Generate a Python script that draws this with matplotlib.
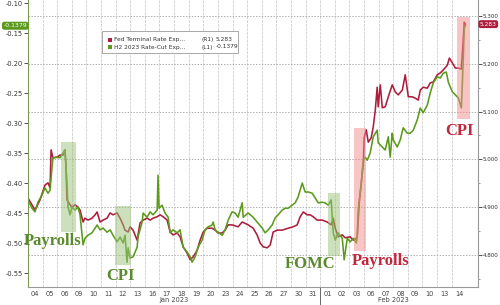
import matplotlib
matplotlib.use('Agg')
from matplotlib import pyplot as plt
from matplotlib.patches import Rectangle
import matplotlib.transforms as mtransforms
import numpy as np

# trading days shown on the x axis (weekends removed)
days = ['04', '05', '06', '09', '10', '11', '12', '13', '16', '17', '18', '19', '20', '23', '24',
        '25', '26', '27', '30', '31', '01', '02', '03', '06', '07', '08', '09', '10', '13', '14']
months = ['Jan 2023', 'Feb 2023']
month_start = [0, 20]
month_end = [20, 30]

# H2 2023 rate-cut expectations (left axis), time in trading days
green_t = [0.0, 0.27, 0.48, 0.68, 0.96, 1.16, 1.37, 1.51, 1.64, 1.71,
           1.99, 2.19, 2.40, 2.53, 2.60, 2.67, 2.74, 2.88, 3.01, 3.22,
           3.42, 3.56, 3.77, 3.90, 4.11, 4.38, 4.59, 4.73, 4.93, 5.14,
           5.41, 5.62, 5.82, 6.10, 6.30, 6.51, 6.64, 6.78, 6.85, 6.99,
           7.19, 7.47, 7.53, 7.81, 7.88, 8.15, 8.36, 8.56, 8.84, 8.90,
           8.97, 9.18, 9.38, 9.59, 9.73, 9.93, 10.21, 10.41, 10.62, 10.89,
           11.10, 11.23, 11.44, 11.64, 11.92, 12.12, 12.33, 12.60, 12.67, 12.81,
           13.01, 13.29, 13.49, 13.70, 13.97, 14.18, 14.38, 14.66, 14.73, 15.07,
           15.41, 15.68, 16.03, 16.23, 16.44, 16.71, 16.92, 17.12, 17.40, 17.60,
           17.81, 18.08, 18.29, 18.49, 18.77, 18.97, 19.18, 19.45, 19.66, 19.86,
           20.14, 20.34, 20.55, 20.75, 20.82, 20.89, 21.03, 21.23, 21.51, 21.64,
           21.85, 22.05, 22.26, 22.47, 22.53, 22.60, 22.81, 22.95, 23.08, 23.22,
           23.42, 23.63, 23.90, 23.97, 24.25, 24.45, 24.66, 24.79, 24.93, 25.00,
           25.27, 25.48, 25.68, 25.96, 26.16, 26.37, 26.64, 26.85, 27.05, 27.33,
           27.53, 27.74, 28.01, 28.22, 28.42, 28.63, 28.77, 29.04, 29.25, 29.45,
           29.66, 29.79, 29.86, 29.93]
green_v = [-0.428, -0.442, -0.448, -0.432, -0.420, -0.408, -0.417, -0.412, -0.375, -0.358,
           -0.357, -0.358, -0.350, -0.345, -0.375, -0.403, -0.440, -0.453, -0.440, -0.445,
           -0.440, -0.453, -0.503, -0.492, -0.487, -0.483, -0.475, -0.470, -0.478, -0.475,
           -0.482, -0.478, -0.487, -0.498, -0.490, -0.500, -0.487, -0.532, -0.508, -0.525,
           -0.523, -0.507, -0.490, -0.465, -0.450, -0.457, -0.448, -0.453, -0.445, -0.387,
           -0.442, -0.437, -0.450, -0.457, -0.483, -0.478, -0.483, -0.478, -0.507, -0.515,
           -0.523, -0.532, -0.523, -0.507, -0.495, -0.478, -0.473, -0.470, -0.465, -0.478,
           -0.482, -0.487, -0.478, -0.462, -0.448, -0.450, -0.457, -0.433, -0.457, -0.450,
           -0.457, -0.465, -0.475, -0.483, -0.478, -0.470, -0.458, -0.453, -0.445, -0.442,
           -0.442, -0.437, -0.433, -0.423, -0.400, -0.415, -0.415, -0.417, -0.425, -0.433,
           -0.432, -0.433, -0.437, -0.428, -0.457, -0.483, -0.495, -0.483, -0.492, -0.528,
           -0.492, -0.498, -0.492, -0.500, -0.490, -0.445, -0.400, -0.362, -0.357, -0.362,
           -0.350, -0.323, -0.312, -0.333, -0.340, -0.345, -0.323, -0.357, -0.317, -0.328,
           -0.340, -0.328, -0.308, -0.317, -0.317, -0.312, -0.295, -0.275, -0.283, -0.270,
           -0.250, -0.233, -0.223, -0.225, -0.217, -0.215, -0.232, -0.248, -0.253, -0.258,
           -0.275, -0.195, -0.142, -0.1379]

# Fed terminal rate expectations (right axis)
red_t = [0.0, 0.27, 0.48, 0.82, 1.16, 1.37, 1.51, 1.58, 1.71, 1.99,
         2.19, 2.40, 2.53, 2.60, 2.67, 2.88, 3.01, 3.22, 3.42, 3.56,
         3.77, 3.90, 4.11, 4.38, 4.59, 4.73, 4.93, 5.14, 5.41, 5.62,
         5.82, 6.10, 6.30, 6.51, 6.64, 6.85, 6.99, 7.19, 7.47, 7.67,
         7.88, 8.15, 8.36, 8.56, 8.84, 9.04, 9.25, 9.52, 9.73, 9.93,
         10.21, 10.41, 10.62, 10.89, 11.10, 11.30, 11.58, 11.78, 11.99, 12.26,
         12.60, 12.81, 13.01, 13.29, 13.49, 13.70, 13.97, 14.18, 14.38, 14.66,
         15.07, 15.41, 15.68, 15.89, 16.10, 16.37, 16.58, 16.78, 17.05, 17.40,
         17.60, 17.81, 18.15, 18.42, 18.63, 18.84, 19.11, 19.32, 19.52, 19.79,
         20.14, 20.48, 20.75, 20.89, 21.03, 21.23, 21.51, 21.71, 22.05, 22.26,
         22.53, 22.67, 22.81, 22.95, 23.01, 23.15, 23.29, 23.49, 23.63, 23.77,
         23.90, 23.97, 24.11, 24.25, 24.45, 24.66, 24.93, 25.14, 25.34, 25.62,
         25.82, 26.03, 26.30, 26.51, 26.71, 26.85, 27.05, 27.33, 27.53, 27.74,
         28.01, 28.22, 28.42, 28.70, 28.84, 29.04, 29.25, 29.45, 29.66, 29.79,
         29.86, 29.93]
red_v = [4.919, 4.905, 4.894, 4.915, 4.946, 4.951, 4.940, 5.020, 5.003, 5.005,
         5.009, 5.009, 5.020, 4.988, 4.915, 4.905, 4.900, 4.905, 4.900, 4.894,
         4.869, 4.877, 4.873, 4.877, 4.884, 4.890, 4.869, 4.873, 4.877, 4.888,
         4.884, 4.888, 4.877, 4.863, 4.852, 4.848, 4.859, 4.852, 4.831, 4.867,
         4.873, 4.877, 4.873, 4.877, 4.880, 4.884, 4.880, 4.873, 4.848, 4.842,
         4.846, 4.838, 4.817, 4.804, 4.790, 4.796, 4.810, 4.831, 4.848, 4.856,
         4.856, 4.852, 4.846, 4.846, 4.852, 4.863, 4.863, 4.861, 4.859, 4.869,
         4.863, 4.856, 4.842, 4.825, 4.817, 4.815, 4.821, 4.848, 4.852, 4.852,
         4.854, 4.856, 4.859, 4.863, 4.880, 4.890, 4.884, 4.884, 4.880, 4.873,
         4.873, 4.869, 4.863, 4.877, 4.856, 4.838, 4.842, 4.836, 4.838, 4.831,
         4.836, 4.909, 4.951, 4.992, 5.045, 5.062, 5.036, 5.045, 5.068, 5.103,
         5.151, 5.110, 5.156, 5.108, 5.110, 5.131, 5.156, 5.141, 5.135, 5.145,
         5.177, 5.131, 5.131, 5.128, 5.124, 5.145, 5.151, 5.149, 5.160, 5.162,
         5.177, 5.181, 5.187, 5.197, 5.212, 5.202, 5.191, 5.191, 5.189, 5.250,
         5.287, 5.283]

left_ticks = [-0.55, -0.50, -0.45, -0.40, -0.35, -0.30, -0.25, -0.20, -0.15, -0.10]
right_ticks = [4.8, 4.9, 5.0, 5.1, 5.2, 5.3]

# highlighted events: shaded span and label
ev_names = ['Payrolls', 'CPI', 'FOMC', 'Payrolls', 'CPI']
ev_side = ['L', 'L', 'L', 'R', 'R']
ev_start = [2.26, 5.96, 20.55, 22.33, 29.38]
ev_end = [3.29, 7.05, 21.37, 23.15, 30.27]
ev_low = [-0.4817, -0.5367, -0.5217, 4.808, 5.085]
ev_high = [-0.3317, -0.4383, -0.4167, 5.066, 5.298]
lab_t = [1.71, 6.34, 19.32, 24.11, 29.55]
lab_v = [-0.4967, -0.555, -0.535, 4.787, 5.059]

RED = '#ad1d3d'
GREEN = '#5c9a1c'
RED_TXT = '#c0283f'
GREEN_TXT = '#5b8a2e'

plt.rcParams['font.family'] = 'DejaVu Sans'
plt.rcParams['font.size'] = 4.8

fig = plt.figure(figsize=(5, 3.05), dpi=100)
ax = fig.add_axes([0.056, 0.059, 0.9, 0.941])
ax2 = ax.twinx()
# green line and annotations above the red axis
ax.set_zorder(2)
ax2.set_zorder(1)
ax.patch.set_visible(False)

ax2.plot(red_t, red_v, color=RED, linewidth=1.15)
ax.plot(green_t, green_v, color=GREEN, linewidth=1.15)

ax.set_xlim(0, 30.8)
ax.set_ylim(-0.5733, -0.095)
ax2.set_ylim(4.733, 5.3335)

# vertical day separators and horizontal dotted grid
for i in range(1, len(days)):
    ax2.axvline(i, color='#d4d4d4', linewidth=0.7, linestyle=(0, (3, 1)), zorder=0)
ax2.set_yticks(right_ticks)
ax2.set_yticklabels(['%.3f' % v for v in right_ticks], fontsize=4.1)
ax2.yaxis.grid(True, linestyle=(0, (1.5, 1.5)), color='#b0b0b0', linewidth=0.7)
ax2.set_yticks(np.arange(4.75, 5.31, 0.05), minor=True)

ax.set_yticks(left_ticks)
ax.set_yticklabels(['%.2f' % v for v in left_ticks])

ax.set_xticks(range(len(days) + 1))
ax.set_xticklabels([])
ax.set_xticks(np.arange(len(days)) + 0.5, minor=True)
ax.set_xticklabels(days, minor=True)
ax.tick_params(axis='x', which='both', length=0, pad=3, colors='#444444')
ax.tick_params(axis='y', length=3, width=0.6, pad=0.8, colors='#333333')
ax2.tick_params(axis='y', which='major', length=3, width=0.6, pad=0.4, colors='#333333')
ax2.tick_params(axis='y', which='minor', length=1.5, width=0.5, colors='#777777')

for s in ['top', 'right']:
    ax.spines[s].set_visible(False)
for s in ['top', 'left', 'bottom']:
    ax2.spines[s].set_visible(False)
ax.spines['left'].set_color('#7a9a50')
ax.spines['bottom'].set_color('#999999')
ax2.spines['right'].set_color('#999999')
ax.spines['left'].set_linewidth(0.8)
ax.spines['bottom'].set_linewidth(0.8)
ax2.spines['right'].set_linewidth(0.8)

# month labels and month divider tick
trans = mtransforms.blended_transform_factory(ax.transData, ax.transAxes)
for m, a, b in zip(months, month_start, month_end):
    ax.text((a + b) / 2, -0.046, m, transform=trans, ha='center', va='center',
            color='#444444', fontsize=4.8)
ax.plot([month_start[1], month_start[1]], [0, -0.07], transform=trans,
        color='#666666', linewidth=0.7, clip_on=False)

# event shading and labels
for name, side, a, b, lo, hi, tx, ty in zip(ev_names, ev_side, ev_start, ev_end,
                                             ev_low, ev_high, lab_t, lab_v):
    tr = ax.transData if side == 'L' else ax2.transData
    fc = '#9cc27a' if side == 'L' else '#f28c8c'
    tc = GREEN_TXT if side == 'L' else RED_TXT
    ax.add_patch(Rectangle((a, lo), b - a, hi - lo, transform=tr, facecolor=fc,
                           alpha=0.5, edgecolor='none', zorder=3))
    ax.text(tx, ty, name, transform=tr, ha='center', va='center', color=tc,
            fontsize=12, fontweight='bold', family='Liberation Serif', zorder=4)

# last value tags
ax.text(-0.002, green_v[-1], '%.4f' % green_v[-1], transform=mtransforms.blended_transform_factory(ax.transAxes, ax.transData),
        ha='right', va='center', color='white', fontsize=4.4, clip_on=False,
        bbox=dict(boxstyle='round,pad=0.25,rounding_size=0.4', facecolor=GREEN, edgecolor='none'))
ax2.text(1.004, red_v[-1], '%.3f' % red_v[-1], transform=mtransforms.blended_transform_factory(ax2.transAxes, ax2.transData),
         ha='left', va='center', color='white', fontsize=4.2, clip_on=False,
         bbox=dict(boxstyle='round,pad=0.25,rounding_size=0.4', facecolor=RED, edgecolor='none'))

# legend drawn by hand in figure pixels
def px(x, y):
    return (x / 500.0, 1 - y / 305.0)

lx, ly = px(102, 53)
lx2, ly2 = px(238, 31)
fig.patches.append(Rectangle((lx, ly), lx2 - lx, ly2 - ly, transform=fig.transFigure,
                             facecolor='white', edgecolor='#9a9a9a', linewidth=0.6, zorder=5))
leg_rows = [('Fed Terminal Rate Exp...', '(R1)', '%.3f' % red_v[-1], RED, 39.8),
            ('H2 2023 Rate-Cut Exp...', '(L1)', '%.4f' % green_v[-1], GREEN, 47.0)]
for name, axis_tag, val, col, yy in leg_rows:
    sx, sy = px(108, yy + 2)
    fig.patches.append(Rectangle((sx, sy), 4 / 500.0, 4 / 305.0, transform=fig.transFigure,
                                 facecolor=col, edgecolor='none', zorder=6))
    fig.text(*px(114, yy), name, ha='left', va='center', fontsize=4.2, color='#333333', zorder=6)
    fig.text(*px(201, yy), axis_tag, ha='left', va='center', fontsize=4.2, color='#333333', zorder=6)
    fig.text(*px(216, yy), val, ha='left', va='center', fontsize=4.2, color='#333333', zorder=6)

plt.savefig('out.png', dpi=100)
